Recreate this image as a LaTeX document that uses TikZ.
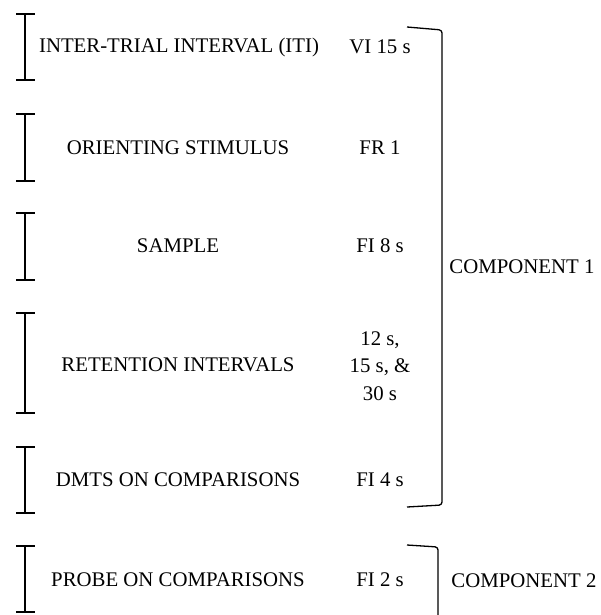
\documentclass[tikz,border=0pt]{standalone}
\usepackage{fontspec}
\setmainfont{Liberation Serif}
\usetikzlibrary{positioning}

\begin{document}
\begin{tikzpicture}[x=1pt,y=-1pt]
        \tikzset{lbl/.style={font=\fontsize{20.8}{27.5}\selectfont, inner sep=0pt, align=center},
                 bar/.style={line width=1.6pt}}

        \useasboundingbox (0,0) rectangle (600,615);

        % phase bars
        \foreach \top/\bot in {14/80, 114/181, 213/280, 313/413, 447/513, 546/612}
            \draw[bar] (16,\top) -- (35,\top) (25,\top) -- (25,\bot) (16,\bot) -- (35,\bot);

        \node[lbl] (iti) at (179,47) {INTER-TRIAL INTERVAL (ITI)};
        \node[lbl] (orient) at (178,148) {ORIENTING STIMULUS};
        \node[lbl] (sample) at (178,246) {SAMPLE};
        \node[lbl] (retain) at (178,365) {RETENTION INTERVALS};
        \node[lbl] (dmts) at (178,480) {DMTS ON COMPARISONS};
        \node[lbl] (probe) at (178,580) {PROBE ON COMPARISONS};

        \node[lbl] (itiS) at (380,47) {VI 15 s};
        \node[lbl] (orientS) at (380,148) {FR 1};
        \node[lbl] (sampleS) at (380,246) {FI 8 s};
        \node[lbl] (retainS) at (380,366) {12 s,\\15 s, \&\\30 s};
        \node[lbl] (dmtsS) at (380,480) {FI 4 s};
        \node[lbl] (probeS) at (380,580) {FI 2 s};

        % components
        \draw[bar, line width=1.3pt, rounded corners=3pt] (407,27) -- (442,30) -- (442,505) -- (407,507);
        \draw[bar, line width=1.3pt, rounded corners=3pt] (407,545) -- (438,547) -- (438,620);

        \node[lbl] (comp1) at (522,267) {COMPONENT 1};
        \node[lbl] (comp2) at (524,581) {COMPONENT 2};

    \end{tikzpicture}
\end{document}
